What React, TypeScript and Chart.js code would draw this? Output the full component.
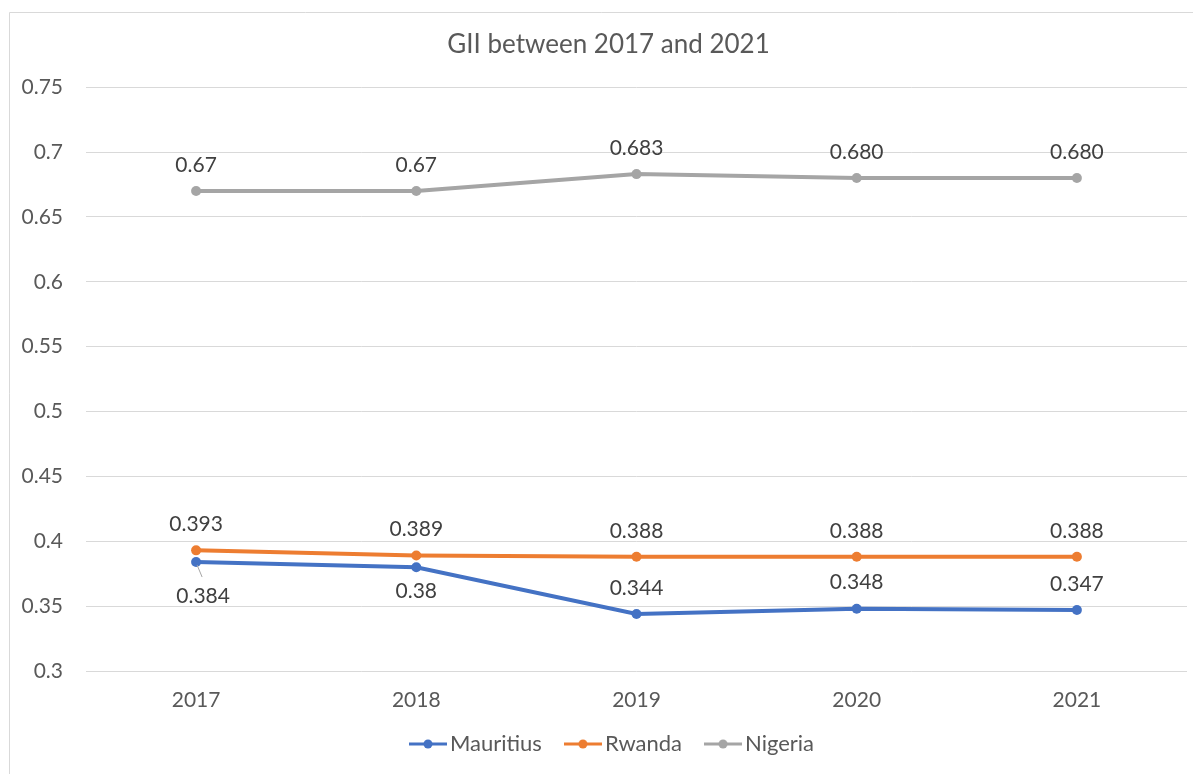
import React, { useEffect, useRef } from 'react';
import { Chart, registerables } from 'chart.js';

Chart.register(...registerables);

const years = ['2017', '2018', '2019', '2020', '2021'];
const mauritius = [0.384, 0.38, 0.344, 0.348, 0.347];
const rwanda = [0.393, 0.389, 0.388, 0.388, 0.388];
const nigeria = [0.67, 0.67, 0.683, 0.68, 0.68];
const mauritiusLabels = ['0.384', '0.38', '0.344', '0.348', '0.347'];
const rwandaLabels = ['0.393', '0.389', '0.388', '0.388', '0.388'];
const nigeriaLabels = ['0.67', '0.67', '0.683', '0.680', '0.680'];
const mauritiusPlace = ['below', 'below', 'above', 'above', 'above'];
const rwandaPlace = ['above', 'above', 'above', 'above', 'above'];
const nigeriaPlace = ['above', 'above', 'above', 'above', 'above'];
const mauritiusLeader = [true, false, false, false, false];

const FONT = 'Lato, "Noto Sans", sans-serif';
const TEXT = '#595959';
const GRID = '#d9d9d9';

function legendImage(color: string): HTMLCanvasElement {
  const c = document.createElement('canvas');
  c.width = 38;
  c.height = 12;
  const g = c.getContext('2d')!;
  g.strokeStyle = color;
  g.lineWidth = 3;
  g.beginPath();
  g.moveTo(0, 6);
  g.lineTo(38, 6);
  g.stroke();
  g.fillStyle = color;
  g.beginPath();
  g.arc(19, 6, 4.5, 0, Math.PI * 2);
  g.fill();
  return c;
}

const borderPlugin = {
  id: 'outerBorder',
  beforeDraw(chart: any) {
    const ctx = chart.ctx;
    ctx.save();
    ctx.fillStyle = '#ffffff';
    ctx.fillRect(0, 0, chart.width, chart.height);
    ctx.strokeStyle = GRID;
    ctx.lineWidth = 1;
    ctx.beginPath();
    ctx.moveTo(9.5, chart.height);
    ctx.lineTo(9.5, 12.5);
    ctx.lineTo(chart.width, 12.5);
    ctx.stroke();
    ctx.restore();
  },
};

// The original chart frame extends past the right edge, so its title and legend sit slightly right of the canvas centre.
const shiftPlugin = {
  id: 'shiftBoxes',
  afterLayout(chart: any) {
    if (chart.titleBlock) {
      chart.titleBlock.left += 15;
      chart.titleBlock.right += 15;
    }
    if (chart.legend) {
      chart.legend.left += 22;
      chart.legend.right += 22;
    }
  },
};

const labelPlugin = {
  id: 'valueLabels',
  afterDatasetsDraw(chart: any) {
    const ctx = chart.ctx;
    ctx.save();
    ctx.font = `21px ${FONT}`;
    ctx.fillStyle = '#404040';
    ctx.textAlign = 'center';
    ctx.textBaseline = 'middle';
    chart.data.datasets.forEach((ds: any, di: number) => {
      const meta = chart.getDatasetMeta(di);
      meta.data.forEach((pt: any, i: number) => {
        const below = ds.labelPlace[i] === 'below';
        let x = pt.x;
        let y = pt.y + (below ? 24 : -26);
        if (ds.leader && ds.leader[i]) {
          ctx.save();
          ctx.strokeStyle = '#a6a6a6';
          ctx.lineWidth = 1;
          ctx.beginPath();
          ctx.moveTo(pt.x + 1, pt.y + 3);
          ctx.lineTo(pt.x + 6, pt.y + 15);
          ctx.stroke();
          ctx.restore();
          x = pt.x + 7;
          y = pt.y + 34;
        }
        ctx.fillText(ds.valueLabels[i], x, y);
      });
    });
    ctx.restore();
  },
};

export default function App() {
  const ref = useRef<HTMLCanvasElement>(null);

  useEffect(() => {
    document.body.style.margin = '0';
    const canvas = ref.current!;
    const colors = ['#4472C4', '#ED7D31', '#A5A5A5'];
    const chart = new Chart(canvas, {
      type: 'line',
      data: {
        labels: years,
        datasets: [
          {
            label: 'Mauritius',
            data: mauritius,
            borderColor: colors[0],
            backgroundColor: colors[0],
            valueLabels: mauritiusLabels,
            labelPlace: mauritiusPlace,
            leader: mauritiusLeader,
          } as any,
          {
            label: 'Rwanda',
            data: rwanda,
            borderColor: colors[1],
            backgroundColor: colors[1],
            valueLabels: rwandaLabels,
            labelPlace: rwandaPlace,
          } as any,
          {
            label: 'Nigeria',
            data: nigeria,
            borderColor: colors[2],
            backgroundColor: colors[2],
            valueLabels: nigeriaLabels,
            labelPlace: nigeriaPlace,
          } as any,
        ],
      },
      options: {
        animation: false,
        responsive: true,
        maintainAspectRatio: false,
        layout: { padding: { left: 0, right: 6, top: 0, bottom: 9 } },
        elements: {
          line: { borderWidth: 4, tension: 0 },
          point: { radius: 5, borderWidth: 0, hoverRadius: 5 },
        },
        scales: {
          x: {
            type: 'category',
            offset: true,
            grid: { display: false, drawTicks: false },
            border: { display: false },
            ticks: { color: TEXT, font: { family: FONT, size: 21 }, padding: 17 },
            afterFit: (s: any) => {
              s.height = 32;
              s._computeLabelArea = () => undefined;
            },
          },
          y: {
            min: 0.3,
            max: 0.75,
            ticks: {
              stepSize: 0.05,
              color: TEXT,
              font: { family: FONT, size: 21 },
              padding: 23,
              callback: (v: any) => String(parseFloat(Number(v).toFixed(2))),
            },
            grid: { color: GRID, lineWidth: 1, drawTicks: false },
            border: { display: false },
            afterFit: (s: any) => { s.width = 86; },
          },
        },
        plugins: {
          title: {
            display: true,
            text: 'GII between 2017 and 2021',
            color: TEXT,
            font: { family: FONT, size: 26, weight: 'normal' },
            padding: { top: 29, bottom: 27 },
          },
          legend: {
            position: 'bottom',
            labels: {
              color: TEXT,
              font: { family: FONT, size: 22 },
              usePointStyle: true,
              pointStyleWidth: 22,
              padding: 30,
              generateLabels: (c: any) => {
                const base = Chart.defaults.plugins.legend.labels.generateLabels(c);
                return base.map((l: any, i: number) => ({
                  ...l,
                  pointStyle: legendImage(colors[i]),
                  fontColor: TEXT,
                }));
              },
            },
          },
          tooltip: { enabled: false },
        },
      } as any,
      plugins: [borderPlugin, shiftPlugin, labelPlugin],
    });
    return () => chart.destroy();
  }, []);

  return (
    <div style={{ width: 1193, height: 774, position: 'relative' }}>
      <canvas ref={ref} />
    </div>
  );
}
